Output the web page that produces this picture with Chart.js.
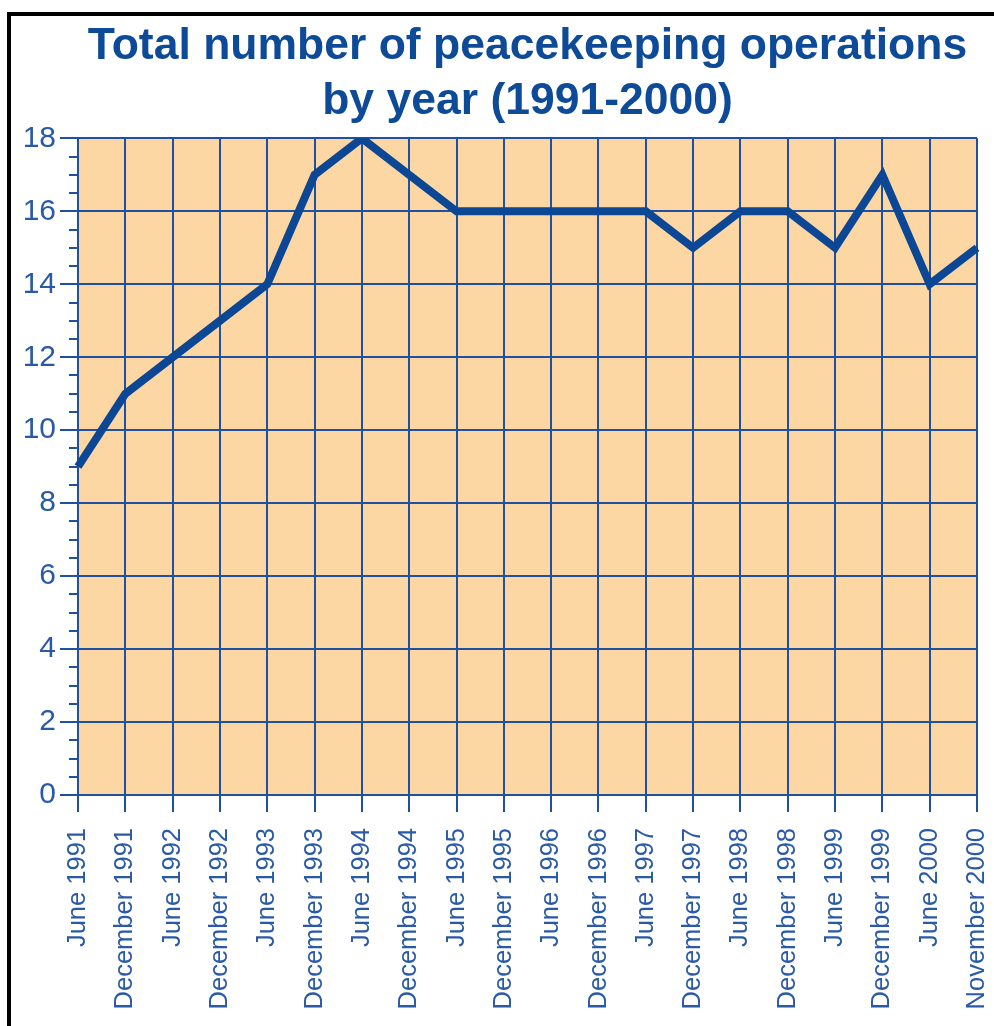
<!DOCTYPE html>
<html>
<head>
<meta charset="utf-8">
<script src="https://cdn.jsdelivr.net/npm/chart.js@4/dist/chart.umd.min.js"></script>
<style>
  html, body { margin: 0; padding: 0; background: #fff; overflow: hidden; }
  #wrap { position: relative; width: 994px; height: 1026px; }
  #frame { position: absolute; left: 7px; top: 12px; width: 983px; height: 1014px;
           border-left: 4px solid #000; border-top: 4px solid #000; pointer-events: none; }
  canvas { position: absolute; left: 0; top: 0; }
</style>
</head>
<body>
<div id="wrap">
  <canvas id="c" width="994" height="1026"></canvas>
  <div id="frame"></div>
</div>
<script>
// ---- data ----
const categories = [
  "June 1991", "December 1991", "June 1992", "December 1992", "June 1993",
  "December 1993", "June 1994", "December 1994", "June 1995", "December 1995",
  "June 1996", "December 1996", "June 1997", "December 1997", "June 1998",
  "December 1998", "June 1999", "December 1999", "June 2000", "November 2000"
];
const operations = [9, 11, 12, 13, 14, 17, 18, 17, 16, 16, 16, 16, 16, 15, 16, 16, 15, 17, 14, 15];
const titleLines = ["Total number of peacekeeping operations", "by year (1991-2000)"];
const yMin = 0, yMax = 18, yStep = 2, yMinorStep = 0.5;

// ---- styles ----
const FILL = '#FDD7A3';
const GRID = '#1F51A0';
const LABEL = '#2A5AA6';
const LINE = '#0B4795';
const FONT = "'Liberation Sans', Arial, Helvetica, sans-serif";

const plotBg = {
  id: 'plotBg',
  beforeDraw(chart) {
    const a = chart.chartArea, ctx = chart.ctx;
    ctx.save();
    ctx.fillStyle = FILL;
    ctx.fillRect(a.left, a.top, a.right - a.left, a.bottom - a.top);
    ctx.restore();
  }
};

const minorTicks = {
  id: 'minorTicks',
  afterDraw(chart) {
    const y = chart.scales.y, ctx = chart.ctx, left = chart.chartArea.left;
    ctx.save();
    ctx.strokeStyle = GRID;
    ctx.lineWidth = 2;
    for (let v = yMin; v <= yMax + 1e-9; v += yMinorStep) {
      if (Math.abs(v / yStep - Math.round(v / yStep)) < 1e-9) continue;
      const py = Math.round(y.getPixelForValue(v));
      ctx.beginPath();
      ctx.moveTo(left - 9, py);
      ctx.lineTo(left, py);
      ctx.stroke();
    }
    ctx.restore();
  }
};

new Chart(document.getElementById('c'), {
  type: 'line',
  data: {
    labels: categories,
    datasets: [{
      data: operations,
      borderColor: LINE,
      borderWidth: 8,
      pointRadius: 0,
      tension: 0,
      borderJoinStyle: 'miter',
      borderCapStyle: 'butt',
      fill: false
    }]
  },
  options: {
    responsive: false,
    animation: false,
    devicePixelRatio: 1,
    layout: { padding: { left: 0, right: 17, top: 0, bottom: 0 } },
    plugins: {
      legend: { display: false },
      tooltip: { enabled: false },
      title: {
        display: true,
        text: titleLines,
        fullSize: false,
        color: '#0D4A97',
        font: { family: FONT, size: 44.5, weight: 'bold', lineHeight: 1.24 },
        padding: { top: 19, bottom: 9 }
      }
    },
    scales: {
      x: {
        type: 'category',
        offset: false,
        afterFit(scale) { scale.height = 231; scale.paddingRight = 0; scale.paddingLeft = 0; },
        grid: { color: GRID, lineWidth: 2, tickLength: 17, tickColor: GRID, drawOnChartArea: true },
        border: { color: GRID, width: 2 },
        ticks: {
          autoSkip: false,
          minRotation: 90, maxRotation: 90,
          color: LABEL,
          padding: 16,
          font: { family: FONT, size: 25.5 }
        }
      },
      y: {
        min: yMin, max: yMax,
        afterFit(scale) { scale.width = 78; },
        grid: { color: GRID, lineWidth: 2, tickLength: 18, tickColor: GRID },
        border: { color: GRID, width: 2 },
        ticks: {
          stepSize: yStep,
          color: LABEL,
          padding: 4,
          font: { family: FONT, size: 30 }
        }
      }
    }
  },
  plugins: [plotBg, minorTicks]
});
</script>
</body>
</html>
